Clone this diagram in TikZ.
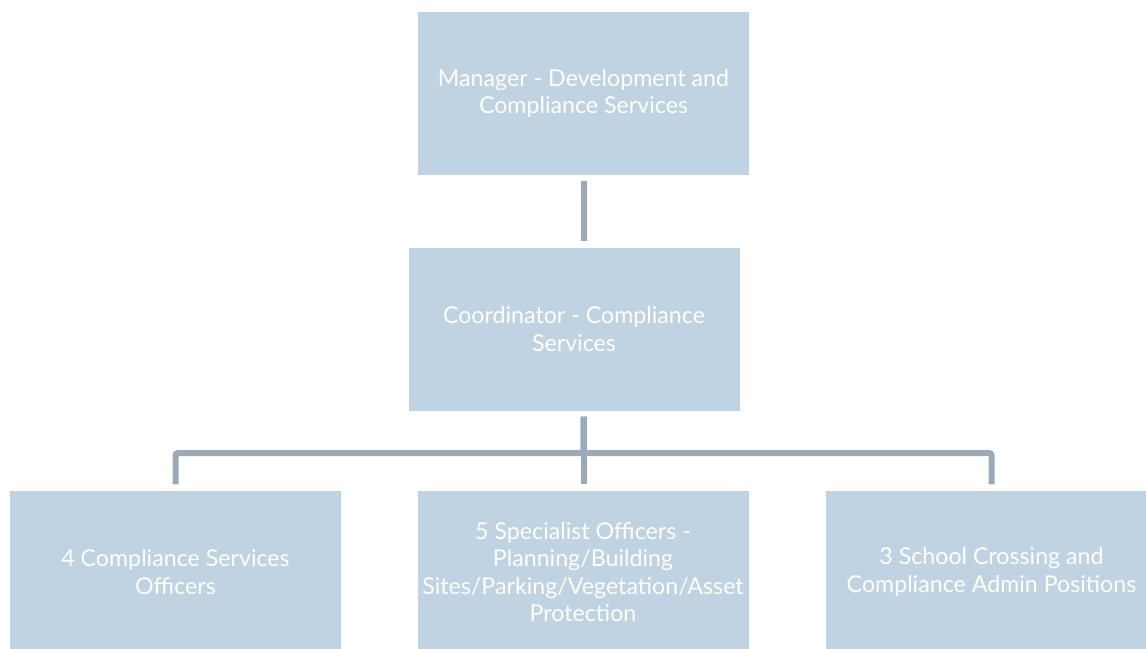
\documentclass[tikz,border=0pt]{standalone}
\usepackage{fontspec}
\setmainfont{Lato}
\usetikzlibrary{positioning}
\definecolor{boxblue}{HTML}{C0D3E2}
\definecolor{linkgrey}{HTML}{9AAAB8}

\begin{document}
\begin{tikzpicture}[x=1pt, y=1pt,
    box/.style={fill=boxblue, text=white, align=center, inner sep=0pt,
        minimum width=331pt, minimum height=163pt,
        font=\fontsize{23.2}{27.5}\selectfont},
    link/.style={draw=linkgrey, line width=6pt, rounded corners=2pt,
        shorten <=6pt, shorten >=6pt}]
    \useasboundingbox (0,0) rectangle (1146,-648);
    \clip (0,0) rectangle (1146,-648);

    \node[box] (mgr)   at (583.5,-93.5) {Manager - Development and\\Compliance Services};
    \node[box] (coord) at (574,-329)    {Coordinator - Compliance\\Services};
    \node[box] (cso)   at (175.5,-572)  {4 Compliance Services\\Officers};
    \node[box] (spec)  at (583,-572)    {5 Specialist Officers -\\Planning/Building\\Sites/Parking/Vegetation/Asset\\Protection};
    \node[box] (scx)   at (991.5,-572)  {3 School Crossing and\\Compliance Admin Positions};

    \draw[link] (mgr.south) -- (mgr.south |- coord.north);
    \draw[link] (mgr.south |- coord.south) -- ++(0,-42.5) -| (cso.north);
    \draw[link] (mgr.south |- coord.south) -- (mgr.south |- spec.north);
    \draw[link] (mgr.south |- coord.south) -- ++(0,-42.5) -| (scx.north);
\end{tikzpicture}
\end{document}
